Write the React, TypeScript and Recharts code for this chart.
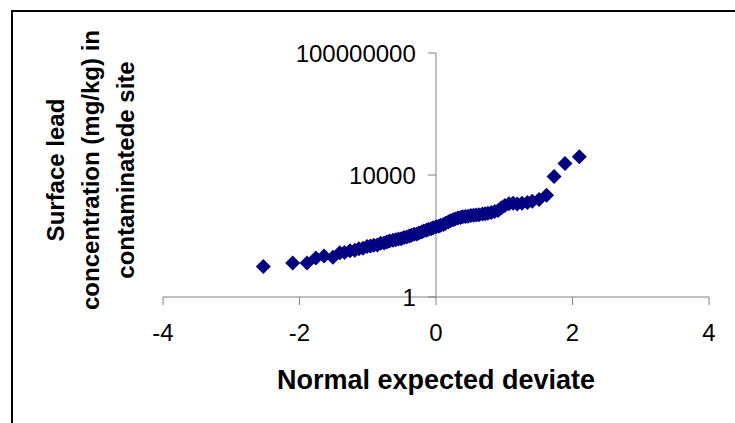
import React from 'react'
import { ScatterChart, Scatter, XAxis, YAxis, ReferenceLine } from 'recharts'

// Normal expected deviate (x) for each sorted sample
const deviates = [
  -2.53, -2.1, -1.89, -1.76, -1.64, -1.51, -1.41, -1.34, -1.26, -1.19, -1.13, -1.07, -1.01,
  -0.96, -0.91, -0.86, -0.81, -0.76, -0.72, -0.68, -0.63, -0.59, -0.55, -0.51, -0.47, -0.43,
  -0.39, -0.36, -0.32, -0.28, -0.25, -0.21, -0.18, -0.14, -0.11, -0.07, -0.04, 0.0, 0.04, 0.07,
  0.11, 0.14, 0.18, 0.21, 0.25, 0.28, 0.32, 0.36, 0.39, 0.43, 0.47, 0.51, 0.55, 0.59, 0.63,
  0.68, 0.72, 0.76, 0.81, 0.86, 0.91, 0.96, 1.01, 1.07, 1.13, 1.19, 1.26, 1.34, 1.41, 1.51,
  1.62, 1.73, 1.89, 2.1,
]

// Surface lead concentration (mg/kg), same order
const leadConc = [
  10, 13, 13, 19, 22, 20, 28, 29, 33, 34, 38, 40, 45, 47, 50, 51, 58, 59, 63, 68, 72, 76, 79,
  81, 89, 93, 100, 105, 115, 117, 126, 135, 145, 155, 166, 174, 186, 200, 209, 224, 240, 263,
  288, 316, 339, 363, 389, 407, 427, 437, 447, 468, 479, 490, 501, 525, 537, 562, 589, 631,
  692, 851, 1000, 1148, 1175, 1122, 1175, 1259, 1380, 1585, 2188, 8913, 23988, 39811,
]

const xTicks = [-4, -2, 0, 2, 4]
const yTicks = [1, 10000, 100000000]

const data = deviates.map((x, i) => ({ x, y: leadConc[i] }))

const FONT = '"Liberation Sans", Arial, sans-serif'
const AXIS = '#808080'
const NAVY = '#000080'

function Diamond(props: any) {
  const { cx, cy } = props
  const r = 7.5
  return (
    <polygon
      points={`${cx},${cy - r} ${cx + r},${cy} ${cx},${cy + r} ${cx - r},${cy}`}
      fill={NAVY}
    />
  )
}

export default function App() {
  return (
    <div
      style={{
        position: 'fixed',
        left: 0,
        top: 0,
        width: 735,
        height: 423,
        overflow: 'hidden',
        background: '#fff',
        fontFamily: FONT,
      }}
    >
      <div
        style={{
          position: 'absolute',
          left: 11,
          top: 10,
          width: 800,
          height: 500,
          borderTop: '2px solid #000',
          borderLeft: '2px solid #000',
        }}
      />
      {/* y axis title, three lines rotated */}
      <div
        style={{
          position: 'absolute',
          left: 90 - 160,
          top: 170 - 60,
          width: 320,
          height: 120,
          transform: 'rotate(-90deg)',
          textAlign: 'center',
          fontWeight: 'bold',
          fontSize: 24,
          lineHeight: '35px',
          color: '#000',
          display: 'flex',
          flexDirection: 'column',
          justifyContent: 'center',
        }}
      >
        <div>Surface lead</div>
        <div>concentration (mg/kg) in</div>
        <div>contaminatede site</div>
      </div>
      <div style={{ position: 'absolute', left: 0, top: 0 }}>
        <ScatterChart
          width={735}
          height={423}
          margin={{ top: 53, right: 26, bottom: 66, left: 163 }}
          style={{ fontFamily: FONT }}
        >
          <XAxis
            type="number"
            dataKey="x"
            domain={[-4, 4]}
            ticks={xTicks}
            allowDataOverflow
            height={60}
            axisLine={{ stroke: AXIS }}
            tickLine={{ stroke: AXIS }}
            tickSize={8}
            tickMargin={19}
            tick={{ fontSize: 24, fill: '#000' }}
            label={{
              value: 'Normal expected deviate',
              position: 'bottom',
              offset: 13,
              fontSize: 27,
              fontWeight: 'bold',
              fill: '#000',
            }}
          />
          <YAxis
            hide
            type="number"
            dataKey="y"
            scale="log"
            domain={[1, 100000000]}
            allowDataOverflow
          />
          <ReferenceLine x={0} stroke={AXIS} />
          {yTicks.map((v) => (
            <ReferenceLine
              key={v}
              segment={[
                { x: -0.12, y: v },
                { x: 0, y: v },
              ]}
              stroke={AXIS}
              label={{
                value: String(v),
                position: 'left',
                offset: 12,
                fontSize: 24,
                fill: '#000',
              }}
            />
          ))}
          <Scatter data={data} shape={<Diamond />} isAnimationActive={false} />
        </ScatterChart>
      </div>
    </div>
  )
}
